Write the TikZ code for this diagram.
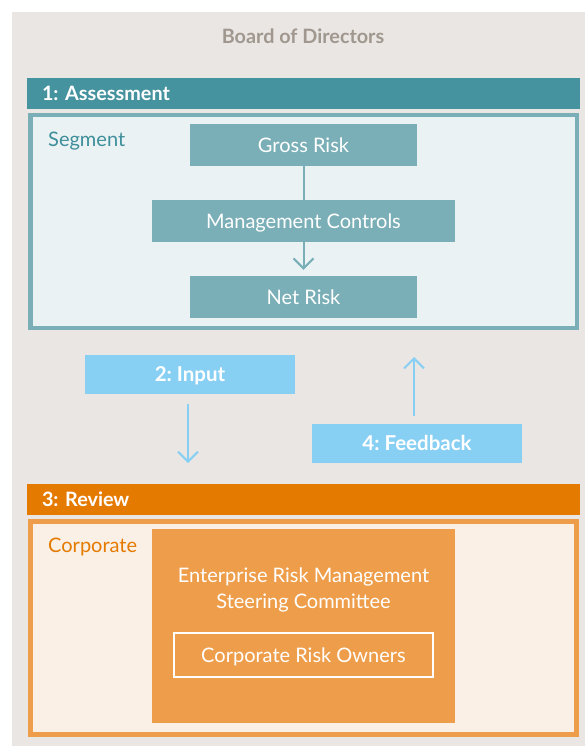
\documentclass[tikz,border=0pt]{standalone}
\usepackage{fontspec}
\setmainfont{Lato}
\frenchspacing
\usetikzlibrary{arrows.meta}
\definecolor{panel}{HTML}{EAE6E3}
\definecolor{boardtext}{HTML}{A0978F}
\definecolor{tealdark}{HTML}{4693A0}
\definecolor{tealmid}{HTML}{7AAFB7}
\definecolor{tealpale}{HTML}{EBF2F4}
\definecolor{tealtext}{HTML}{3E8F9B}
\definecolor{sky}{HTML}{88CFF4}
\definecolor{revieworange}{HTML}{E57A00}
\definecolor{ormid}{HTML}{EE9E4A}
\definecolor{orpale}{HTML}{FBF0E6}
\begin{document}
\begin{tikzpicture}[x=1pt,y=-1pt,
  lbl/.style={font=\fontsize{20}{24}\selectfont},
  capcentre/.style={text height=14.5pt, text depth=0pt},
  hdr/.style={font=\fontsize{19.8}{24}\selectfont\bfseries, text=white,
    minimum width=553pt, minimum height=31pt, inner xsep=15pt,
    text width=523pt, align=left, inner ysep=0pt, capcentre},
  frame/.style={line width=4.5pt, minimum width=546.5pt, minimum height=213pt, inner sep=0pt},
  tealbox/.style={fill=tealmid, text=white, lbl, minimum height=42pt, inner sep=0pt, capcentre},
  skybox/.style={fill=sky, text=white, font=\fontsize{20.5}{24}\selectfont\bfseries,
    minimum width=210pt, minimum height=39pt, inner sep=0pt, capcentre},
  tealflow/.style={draw=tealmid, line width=2pt},
  skyflow/.style={draw=sky, line width=2pt},
  vtip/.style={-{Straight Barb[length=10pt,width=20pt]}}
]
\useasboundingbox (0,0) rectangle (585,746);
% background panel
\fill[panel] (12,12) rectangle (585,746);

% title
\node[font=\fontsize{19.8}{24}\selectfont\bfseries, text=boardtext, anchor=base]
  (board) at (303,44) {Board of Directors};

% stage 1
\node[hdr, fill=tealdark] (assess) at (303.5,93.5) {1: Assessment};
\node[frame, draw=tealmid, fill=tealpale] (segment) at (303.75,221.5) {};
\node[lbl, text=tealtext, anchor=base west, inner sep=0pt] (segtitle) at (48,146.5) {Segment};
\node[tealbox, minimum width=227pt] (gross) at (303.5,145) {Gross Risk};
\node[tealbox, minimum width=303pt] (mgmt) at (303.5,221) {Management Controls};
\node[tealbox, minimum width=227pt] (net) at (303.5,297) {Net Risk};
\draw[tealflow] (gross.south) -- (mgmt.north);
\draw[tealflow, vtip, shorten >=6pt] (mgmt.south) -- (net.north);

% stages 2 and 4
\node[skybox] (input) at (190,374.5) {2: Input};
\node[skybox] (feedback) at (417,443.5) {4: Feedback};
\coordinate (inputend) at (188,463);
\coordinate (feedbackend) at (414,357);
\draw[skyflow, vtip, shorten <=10pt] (input.south -| inputend) -- (inputend);
\draw[skyflow, vtip, shorten <=8pt] (feedback.north -| feedbackend) -- (feedbackend);

% stage 3
\node[hdr, fill=revieworange] (review) at (303.5,499.5) {3: Review};
\node[frame, draw=ormid, fill=orpale, minimum width=546pt] (corporate) at (303.5,628) {};
\node[lbl, text=revieworange, anchor=base west, inner sep=0pt] (corptitle) at (48,552.5) {Corporate};
\node[fill=ormid, minimum width=303pt, minimum height=194pt, inner sep=0pt] (erm) at (303.5,626) {};
\node[font=\fontsize{20}{26}\selectfont, text=white, align=center, anchor=base]
  (ermtext) at (303.5,608.3) {Enterprise Risk Management\\Steering Committee};
\node[draw=white, line width=2pt, lbl, text=white, minimum width=259pt,
  minimum height=44pt, inner sep=0pt, capcentre] (owners) at (303.5,655) {Corporate Risk Owners};
\end{tikzpicture}
\end{document}
